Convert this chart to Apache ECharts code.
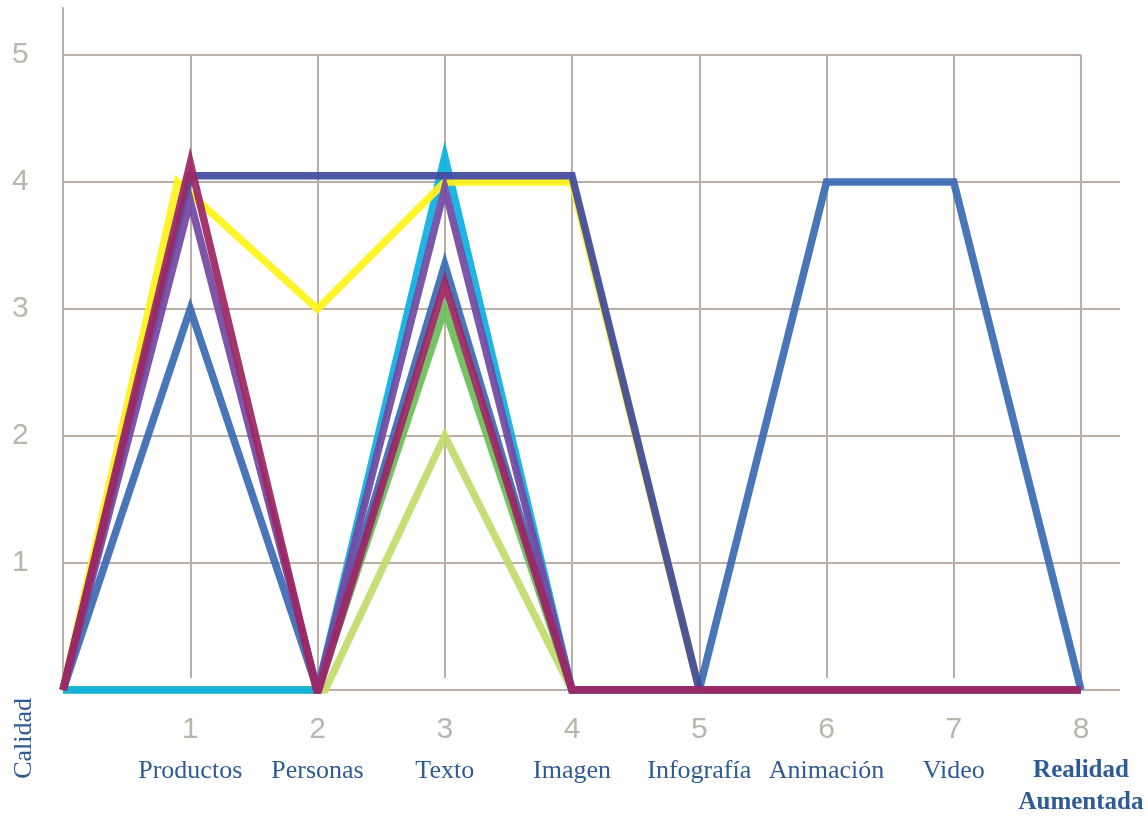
<!DOCTYPE html>
<html><head><meta charset="utf-8">
<script src="https://cdn.jsdelivr.net/npm/echarts@6/dist/echarts.min.js"></script>
<style>html,body{margin:0;padding:0;background:#fff}#c{width:1147px;height:816px}</style>
</head><body><div id="c"></div>
<script>
// ---- data ----
const categories = ['', 'Productos', 'Personas', 'Texto', 'Imagen', 'Infografía', 'Animación', 'Video', 'Realidad\nAumentada'];
const tickNumbers = ['', '1', '2', '3', '4', '5', '6', '7', '8'];
const positions = [0, 1, 2, 3, 4, 5, 6, 7, 8];
const yellowPositions = [0, 0.9, 2, 3, 4, 5, 6, 7, 8];
const lightGreenPositions = [0, 1, 2.06, 3, 4, 5, 6, 7, 8];

const lightGreenVals = [0, 0, 0, 2, 0, 0, 0, 0, 0];
const greenVals      = [0, 0, 0, 3, 0, 0, 0, 0, 0];
const cyanVals       = [0, 0, 0, 4.2, 0, 0, 0, 0, 0];
const yellowVals     = [0, 4, 3, 4, 4, 0, 0, 0, 0];
const blueVals       = [0, 3, 0, 3.35, 0, 0, 4, 4, 0];
const navyVals       = [0, 4.05, 4.05, 4.05, 4.05, 0, 0, 0, 0];
const purpleVals     = [0, 3.85, 0, 3.95, 0, 0, 0, 0, 0];
const crimsonVals    = [0, 4.15, -0.03, 3.2, 0, 0, 0, 0, 0];

// ---- styles ----
const gridColor = '#bbaea6';
const labelBlue = '#2f5b94';
const numGray = '#b7b8ab';

function mk(name, xs, vals, color) {
  return {
    name, type: 'line', xAxisIndex: 0, yAxisIndex: 0,
    data: xs.map((x, i) => [x, vals[i]]),
    symbol: 'none', silent: true,
    lineStyle: { width: 7.5, color, join: 'miter', miterLimit: 10, opacity: 0.93 }
  };
}

const chart = echarts.init(document.getElementById('c'), null, { renderer: 'canvas' });
chart.setOption({
  animation: false,
  backgroundColor: '#fff',
  grid: [
    { left: 63, right: 27, top: 8, bottom: 126 },
    { left: 63, right: 66, top: 55, bottom: 138 }
  ],
  xAxis: [
    { gridIndex: 0, type: 'value', min: 0, max: 8 * 1057 / 1018, show: false },
    { gridIndex: 1, type: 'value', min: 0, max: 8, interval: 1,
      axisLine: { show: false }, axisTick: { show: false },
      splitLine: { show: true, showMinLine: false, lineStyle: { color: gridColor, width: 2 } },
      axisLabel: {
        margin: 27,
        formatter: function (v) {
          const i = Math.round(v);
          if (i <= 0 || i >= categories.length) return '';
          const st = i === 8 ? 'b' : 'c';
          return '{n|' + tickNumbers[i] + '}\n' + categories[i].split('\n').map(s => '{' + st + '|' + s + '}').join('\n');
        },
        rich: {
          n: { fontFamily: 'Liberation Sans', fontSize: 30, color: numGray, lineHeight: 50, align: 'center' },
          c: { fontFamily: 'Liberation Serif', fontSize: 26, color: labelBlue, lineHeight: 32, align: 'center' },
          b: { fontFamily: 'Liberation Serif', fontSize: 25, fontWeight: 'bold', color: labelBlue, lineHeight: 32, align: 'center' }
        }
      }
    }
  ],
  yAxis: [
    { gridIndex: 0, type: 'value', min: 0, max: 5 + 47 / 127, interval: 1,
      axisLine: { show: true, lineStyle: { color: gridColor, width: 2 } },
      axisTick: { show: false },
      splitLine: { show: true, showMaxLine: false,
        lineStyle: { color: [gridColor, gridColor, gridColor, gridColor, gridColor, 'rgba(0,0,0,0)'], width: 2 } },
      axisLabel: {
        margin: 51, align: 'left', color: numGray, fontFamily: 'Liberation Sans', fontSize: 30,
        formatter: v => (v > 0 && Math.abs(v - Math.round(v)) < 1e-6) ? String(Math.round(v)) : ''
      }
    },
    { gridIndex: 1, type: 'value', min: 0, max: 1, interval: 1,
      axisLine: { show: false }, axisTick: { show: false }, axisLabel: { show: false },
      splitLine: { show: true, showMinLine: false, lineStyle: { color: gridColor, width: 2 } }
    }
  ],
  graphic: [
    { type: 'text', left: 11, top: 698, rotation: Math.PI / 2,
      style: { text: 'Calidad', fill: labelBlue, font: '26px "Liberation Serif"' } }
  ],
  series: [
    mk('lightGreen', lightGreenPositions, lightGreenVals, '#c3dc6c'),
    mk('green', positions, greenVals, '#6abf58'),
    mk('cyan', positions, cyanVals, '#0cb0e2'),
    mk('yellow', yellowPositions, yellowVals, '#fff21a'),
    mk('blue', positions, blueVals, '#3b6bb4'),
    mk('navy', positions, navyVals, '#3f4a9e'),
    mk('purple', positions, purpleVals, '#7349a3'),
    mk('crimson', positions, crimsonVals, '#9d2763')
  ]
});
</script>
</body></html>
